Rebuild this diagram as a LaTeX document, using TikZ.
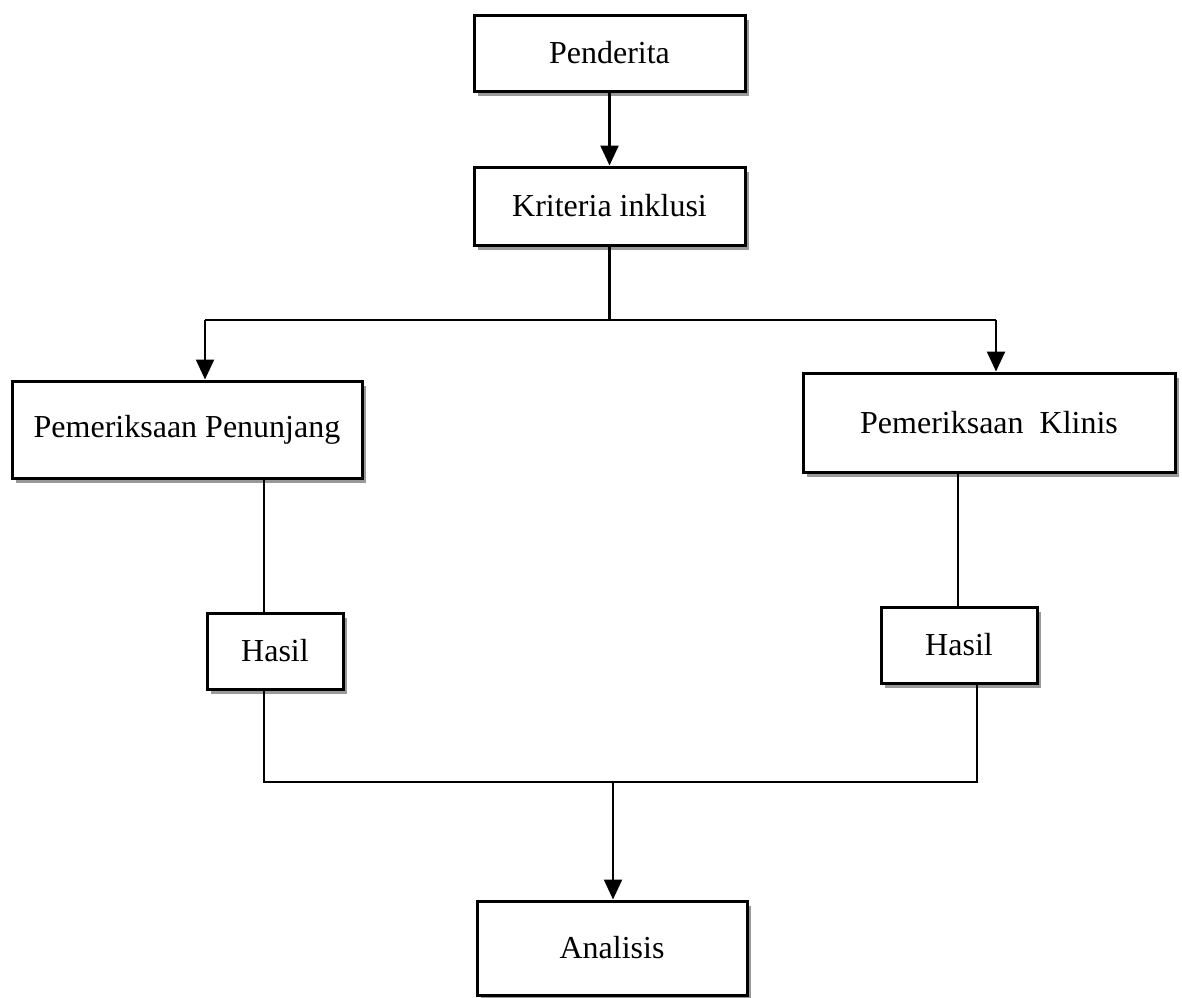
\documentclass[tikz,border=0pt]{standalone}
\usepackage{fontspec}
\setmainfont{Liberation Serif}
\usetikzlibrary{arrows.meta,shadows}
\begin{document}
\begin{tikzpicture}[x=1pt, y=-1pt,
    box/.style={draw, line width=3pt, fill=white, inner sep=0pt,
      font=\fontsize{32}{38}\selectfont,
      drop shadow={shadow xshift=4pt, shadow yshift=-5pt, fill=black!40, opacity=1}},
    conn/.style={line width=2.3pt},
    arr/.style={conn, -{Triangle[width=18pt,length=20pt]}}]
  \useasboundingbox (0,0) rectangle (1182,997);
  % boxes
  \node[box, minimum width=271pt, minimum height=76pt] (pend) at (609.5,53)  {Penderita};
  \node[box, minimum width=271pt, minimum height=78pt] (krit) at (609.5,206) {Kriteria inklusi};
  \node[box, minimum width=350pt, minimum height=97pt] (pen)  at (187,429.5) {Pemeriksaan Penunjang};
  \node[box, minimum width=372pt, minimum height=99pt] (kli)  at (989,422.5) {Pemeriksaan\ \ Klinis};
  \node[box, minimum width=136pt, minimum height=76pt] (hl)   at (275,651)   {Hasil};
  \node[box, minimum width=156pt, minimum height=76pt] (hr)   at (959,645)   {Hasil};
  \node[box, minimum width=270pt, minimum height=94pt] (ana)  at (612,948)   {Analisis};
  % junction points
  \coordinate (jl) at (205,320);
  \coordinate (jr) at (996,320);
  \coordinate (ll) at (264,782);
  \coordinate (rt) at (958,782);
  \coordinate (rr) at (977,782);
  \coordinate (jb) at (613,782);
  % edges
  \draw[arr] (pend) -- (krit);
  \draw[conn] (krit.south) -- (krit.south |- jl);
  \draw[conn] (jl) -- (jr);
  \draw[arr] (jl) -- (jl |- pen.north);
  \draw[arr] (jr) -- (jr |- kli.north);
  \draw[conn] (ll |- pen.south) -- (ll |- hl.north);
  \draw[conn] (rt |- kli.south) -- (rt |- hr.north);
  \draw[conn] (ll |- hl.south) -- (ll) -- (rr) -- (rr |- hr.south);
  \draw[arr] (jb) -- (jb |- ana.north);
\end{tikzpicture}
\end{document}
